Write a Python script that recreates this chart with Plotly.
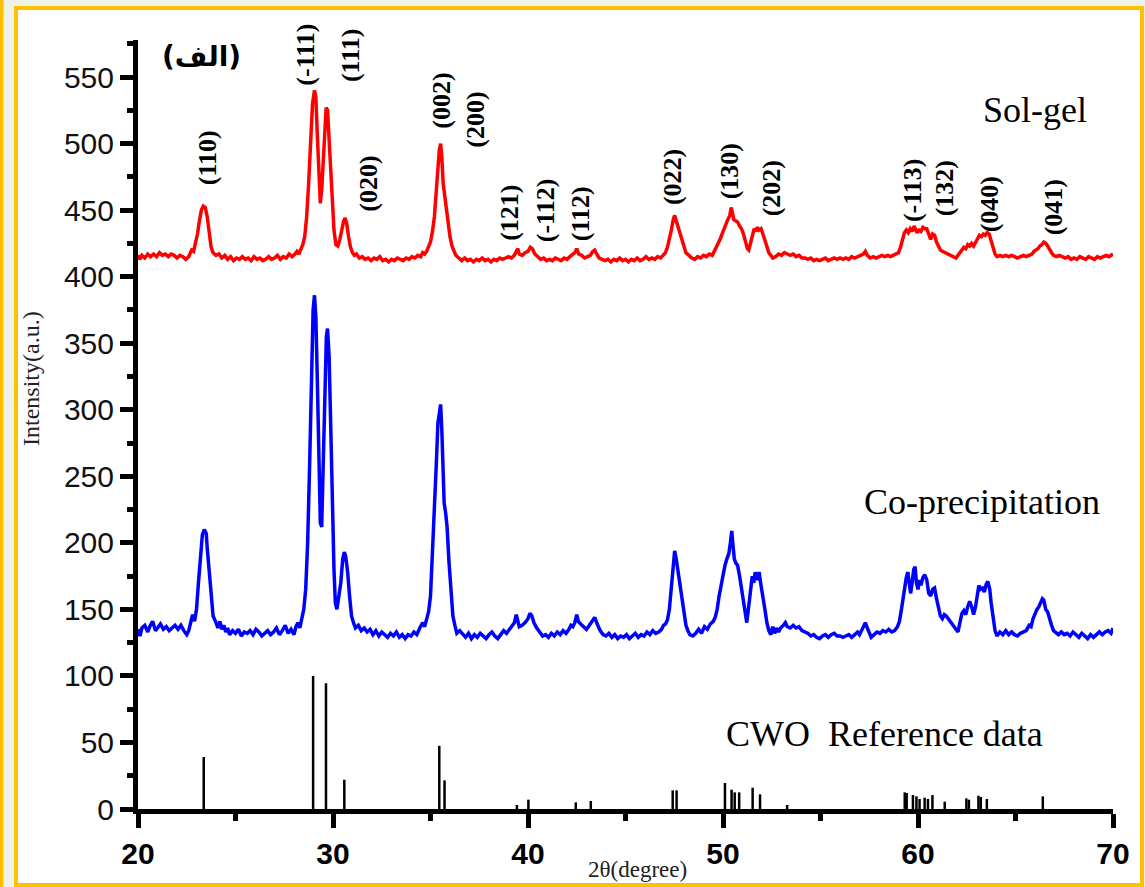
import plotly.graph_objects as go

# --- XRD patterns: (2theta in degrees, intensity in a.u.) ---
sol_gel = [
    (20.0, 416), (20.1, 413), (20.2, 416), (20.35, 414), (20.5, 417), (20.65, 415), (20.8, 417), (20.95, 415),
    (21.1, 418), (21.25, 416), (21.4, 417), (21.55, 415), (21.7, 417), (21.85, 416), (22.0, 414), (22.15, 416),
    (22.3, 415), (22.45, 413), (22.6, 415), (22.75, 420), (22.85, 419), (22.95, 425), (23.05, 432), (23.15, 442),
    (23.25, 450), (23.35, 453), (23.45, 452), (23.55, 445), (23.65, 432), (23.75, 422), (23.85, 418), (24.0, 416),
    (24.15, 417), (24.3, 414), (24.45, 416), (24.6, 413), (24.75, 415), (24.9, 412), (25.05, 414), (25.2, 413),
    (25.35, 415), (25.5, 413), (25.65, 414), (25.8, 412), (25.95, 415), (26.1, 413), (26.25, 414), (26.4, 412),
    (26.55, 413), (26.7, 415), (26.85, 413), (27.0, 414), (27.15, 416), (27.3, 413), (27.45, 415), (27.6, 414),
    (27.75, 417), (27.9, 415), (28.05, 417), (28.15, 419), (28.25, 417), (28.35, 421), (28.45, 424), (28.55, 430),
    (28.65, 445), (28.75, 470), (28.85, 500), (28.95, 530), (29.05, 540), (29.12, 535), (29.2, 505), (29.28, 470),
    (29.35, 455), (29.42, 465), (29.5, 490), (29.58, 515), (29.65, 527), (29.72, 525), (29.8, 505), (29.88, 478),
    (29.95, 460), (30.05, 435), (30.15, 424), (30.25, 423), (30.35, 428), (30.45, 436), (30.55, 442), (30.62, 444),
    (30.7, 440), (30.8, 430), (30.9, 422), (31.0, 418), (31.1, 416), (31.2, 417), (31.35, 414), (31.5, 415),
    (31.65, 413), (31.8, 414), (31.95, 412), (32.1, 414), (32.25, 413), (32.4, 415), (32.55, 412), (32.7, 413),
    (32.85, 411), (33.0, 413), (33.15, 412), (33.3, 414), (33.45, 413), (33.6, 412), (33.75, 414), (33.9, 413),
    (34.05, 415), (34.2, 414), (34.35, 416), (34.5, 415), (34.6, 418), (34.7, 417), (34.8, 419), (34.9, 422),
    (35.0, 426), (35.1, 434), (35.2, 445), (35.3, 465), (35.38, 482), (35.45, 495), (35.52, 500), (35.58, 490),
    (35.65, 470), (35.72, 462), (35.8, 452), (35.9, 440), (36.0, 430), (36.1, 423), (36.2, 419), (36.3, 416),
    (36.45, 414), (36.6, 412), (36.75, 414), (36.9, 412), (37.05, 413), (37.2, 411), (37.35, 413), (37.5, 412),
    (37.65, 414), (37.8, 412), (37.95, 413), (38.1, 411), (38.25, 413), (38.4, 412), (38.55, 414), (38.7, 413),
    (38.85, 414), (39.0, 415), (39.15, 414), (39.3, 416), (39.4, 419), (39.48, 421), (39.55, 417), (39.7, 416),
    (39.85, 418), (40.0, 419), (40.12, 422), (40.22, 421), (40.35, 417), (40.5, 415), (40.65, 413), (40.8, 414),
    (40.95, 412), (41.1, 413), (41.25, 412), (41.4, 414), (41.55, 413), (41.7, 412), (41.85, 414), (42.0, 413),
    (42.15, 415), (42.3, 417), (42.4, 418), (42.5, 421), (42.6, 417), (42.75, 416), (42.9, 414), (43.05, 415),
    (43.2, 416), (43.32, 419), (43.42, 420), (43.52, 417), (43.65, 414), (43.8, 413), (43.95, 412), (44.1, 413),
    (44.25, 411), (44.4, 413), (44.55, 412), (44.7, 414), (44.85, 412), (45.0, 413), (45.15, 411), (45.3, 413),
    (45.45, 412), (45.6, 414), (45.75, 412), (45.9, 413), (46.05, 415), (46.2, 413), (46.35, 414), (46.5, 413),
    (46.65, 415), (46.8, 414), (46.95, 416), (47.05, 418), (47.15, 422), (47.25, 428), (47.35, 435), (47.45, 443),
    (47.52, 446), (47.6, 442), (47.7, 437), (47.8, 432), (47.9, 426), (48.0, 421), (48.1, 418), (48.25, 416),
    (48.4, 414), (48.55, 413), (48.7, 415), (48.85, 414), (49.0, 416), (49.15, 415), (49.3, 417), (49.45, 416),
    (49.55, 419), (49.65, 421), (49.75, 424), (49.85, 428), (49.95, 432), (50.05, 436), (50.15, 440), (50.25, 443),
    (50.35, 446), (50.42, 452), (50.48, 448), (50.55, 443), (50.65, 442), (50.75, 441), (50.85, 438), (50.95, 436),
    (51.05, 432), (51.15, 426), (51.25, 421), (51.32, 420), (51.4, 425), (51.5, 432), (51.6, 436), (51.68, 434),
    (51.75, 437), (51.85, 435), (51.95, 436), (52.05, 432), (52.15, 427), (52.25, 422), (52.35, 418), (52.45, 416),
    (52.55, 414), (52.7, 415), (52.85, 417), (53.0, 416), (53.15, 418), (53.3, 417), (53.45, 416), (53.6, 417),
    (53.75, 415), (53.9, 416), (54.05, 414), (54.2, 414), (54.35, 413), (54.5, 414), (54.65, 412), (54.8, 413),
    (54.95, 412), (55.1, 413), (55.25, 414), (55.4, 412), (55.55, 413), (55.7, 414), (55.85, 413), (56.0, 414),
    (56.15, 413), (56.3, 414), (56.45, 413), (56.6, 415), (56.75, 414), (56.9, 415), (57.05, 416), (57.2, 417),
    (57.3, 419), (57.4, 416), (57.55, 414), (57.7, 415), (57.85, 414), (58.0, 415), (58.15, 416), (58.3, 415),
    (58.45, 416), (58.6, 415), (58.75, 416), (58.9, 417), (59.0, 418), (59.1, 422), (59.2, 428), (59.3, 433),
    (59.4, 435), (59.5, 433), (59.6, 436), (59.7, 434), (59.8, 438), (59.88, 436), (59.95, 433), (60.05, 435),
    (60.15, 434), (60.25, 437), (60.35, 436), (60.45, 436), (60.55, 432), (60.65, 428), (60.75, 432), (60.85, 431),
    (60.95, 426), (61.05, 423), (61.15, 420), (61.25, 419), (61.4, 418), (61.55, 417), (61.7, 416), (61.85, 415),
    (61.95, 414), (62.05, 416), (62.15, 418), (62.25, 420), (62.35, 422), (62.45, 421), (62.55, 424), (62.65, 423),
    (62.75, 425), (62.85, 423), (62.95, 426), (63.05, 428), (63.15, 431), (63.25, 430), (63.35, 432), (63.45, 431),
    (63.55, 433), (63.65, 432), (63.75, 427), (63.85, 421), (63.95, 417), (64.05, 415), (64.2, 416), (64.35, 415),
    (64.5, 416), (64.65, 415), (64.8, 416), (64.95, 415), (65.1, 414), (65.25, 415), (65.4, 416), (65.55, 415),
    (65.7, 416), (65.85, 417), (65.95, 419), (66.05, 420), (66.15, 421), (66.25, 423), (66.35, 424), (66.45, 426),
    (66.55, 425), (66.65, 423), (66.75, 420), (66.85, 418), (66.95, 416), (67.1, 415), (67.25, 416), (67.4, 415),
    (67.55, 414), (67.7, 415), (67.85, 413), (68.0, 414), (68.15, 413), (68.3, 415), (68.45, 414), (68.6, 413),
    (68.75, 415), (68.9, 414), (69.05, 413), (69.2, 415), (69.35, 414), (69.5, 415), (69.65, 416), (69.8, 415),
    (69.95, 417), (70.0, 417),
]

co_precipitation = [
    (20.0, 135), (20.1, 130), (20.2, 136), (20.35, 138), (20.5, 133), (20.6, 137), (20.75, 141), (20.9, 134),
    (21.0, 136), (21.15, 139), (21.3, 135), (21.45, 137), (21.6, 134), (21.75, 136), (21.9, 138), (22.05, 135),
    (22.2, 138), (22.35, 134), (22.5, 131), (22.6, 134), (22.7, 140), (22.8, 146), (22.9, 141), (23.0, 150),
    (23.1, 170), (23.2, 192), (23.3, 206), (23.4, 210), (23.5, 207), (23.55, 196), (23.65, 180), (23.75, 160),
    (23.85, 145), (24.0, 140), (24.1, 136), (24.2, 141), (24.3, 135), (24.4, 138), (24.5, 133), (24.6, 136),
    (24.7, 131), (24.85, 134), (25.0, 132), (25.15, 135), (25.3, 130), (25.45, 133), (25.6, 132), (25.75, 134),
    (25.9, 131), (26.05, 135), (26.2, 133), (26.35, 130), (26.5, 132), (26.65, 134), (26.8, 131), (26.95, 133),
    (27.1, 136), (27.25, 131), (27.4, 134), (27.55, 138), (27.7, 132), (27.85, 135), (28.0, 131), (28.1, 137),
    (28.2, 140), (28.3, 136), (28.4, 143), (28.5, 150), (28.6, 165), (28.7, 200), (28.8, 258), (28.9, 330),
    (28.98, 375), (29.05, 386), (29.12, 370), (29.2, 320), (29.28, 255), (29.35, 215), (29.42, 212), (29.5, 255),
    (29.58, 320), (29.66, 355), (29.72, 361), (29.8, 340), (29.88, 290), (29.95, 240), (30.05, 180), (30.12, 155),
    (30.2, 150), (30.28, 158), (30.4, 170), (30.5, 188), (30.58, 193), (30.65, 190), (30.75, 178), (30.85, 160),
    (30.95, 145), (31.05, 140), (31.15, 136), (31.3, 138), (31.45, 134), (31.6, 136), (31.75, 133), (31.9, 135),
    (32.05, 131), (32.2, 134), (32.35, 130), (32.5, 133), (32.65, 131), (32.8, 129), (32.95, 132), (33.1, 130),
    (33.25, 133), (33.4, 129), (33.55, 131), (33.7, 128), (33.85, 131), (34.0, 130), (34.15, 133), (34.3, 131),
    (34.45, 136), (34.6, 140), (34.7, 137), (34.8, 142), (34.9, 148), (35.0, 160), (35.1, 190), (35.2, 230),
    (35.3, 260), (35.38, 290), (35.45, 300), (35.52, 304), (35.58, 285), (35.63, 250), (35.7, 230), (35.78, 222),
    (35.85, 212), (35.95, 185), (36.05, 160), (36.15, 145), (36.25, 138), (36.35, 132), (36.5, 134), (36.65, 131),
    (36.8, 129), (36.95, 132), (37.1, 128), (37.25, 131), (37.4, 129), (37.55, 132), (37.7, 130), (37.85, 128),
    (38.0, 131), (38.15, 133), (38.3, 130), (38.45, 128), (38.6, 131), (38.75, 134), (38.9, 132), (39.05, 135),
    (39.2, 137), (39.3, 140), (39.4, 146), (39.48, 142), (39.55, 137), (39.7, 138), (39.85, 140), (40.0, 143),
    (40.1, 147), (40.2, 145), (40.3, 140), (40.45, 136), (40.6, 133), (40.75, 130), (40.9, 131), (41.05, 129),
    (41.2, 132), (41.35, 130), (41.5, 133), (41.65, 131), (41.8, 134), (41.95, 132), (42.1, 135), (42.2, 138),
    (42.3, 137), (42.4, 140), (42.5, 146), (42.58, 141), (42.7, 139), (42.85, 137), (43.0, 135), (43.15, 138),
    (43.3, 142), (43.42, 144), (43.55, 139), (43.7, 134), (43.85, 131), (44.0, 130), (44.15, 132), (44.3, 129),
    (44.45, 131), (44.6, 128), (44.75, 130), (44.9, 129), (45.05, 131), (45.2, 128), (45.35, 130), (45.5, 132),
    (45.65, 129), (45.8, 131), (45.95, 130), (46.1, 133), (46.25, 131), (46.4, 134), (46.55, 132), (46.7, 133),
    (46.85, 135), (46.95, 138), (47.05, 139), (47.15, 142), (47.25, 150), (47.35, 168), (47.45, 186), (47.52, 194),
    (47.6, 188), (47.68, 180), (47.78, 170), (47.88, 158), (47.98, 148), (48.1, 138), (48.2, 134), (48.3, 131),
    (48.45, 130), (48.6, 132), (48.75, 135), (48.9, 132), (49.05, 137), (49.2, 135), (49.35, 139), (49.5, 141),
    (49.6, 144), (49.7, 150), (49.8, 160), (49.9, 168), (50.0, 175), (50.1, 183), (50.2, 188), (50.3, 192),
    (50.38, 200), (50.45, 209), (50.5, 200), (50.58, 188), (50.65, 185), (50.75, 183), (50.85, 175), (50.95, 165),
    (51.05, 155), (51.15, 145), (51.22, 140), (51.3, 150), (51.4, 165), (51.5, 175), (51.58, 170), (51.65, 178),
    (51.75, 172), (51.85, 178), (51.95, 168), (52.05, 160), (52.15, 150), (52.25, 140), (52.35, 134), (52.45, 131),
    (52.55, 137), (52.65, 132), (52.75, 136), (52.85, 133), (52.95, 136), (53.1, 138), (53.2, 140), (53.3, 137),
    (53.45, 136), (53.6, 138), (53.75, 136), (53.9, 137), (54.05, 134), (54.2, 133), (54.35, 132), (54.5, 130),
    (54.65, 131), (54.8, 129), (54.95, 128), (55.1, 130), (55.25, 131), (55.4, 129), (55.55, 131), (55.7, 132),
    (55.85, 130), (56.0, 130), (56.15, 129), (56.3, 130), (56.45, 131), (56.6, 129), (56.75, 131), (56.9, 133),
    (57.0, 131), (57.1, 134), (57.2, 137), (57.3, 140), (57.4, 136), (57.5, 132), (57.6, 129), (57.75, 131),
    (57.9, 133), (58.05, 132), (58.2, 134), (58.35, 133), (58.5, 135), (58.65, 133), (58.8, 134), (58.95, 137),
    (59.05, 141), (59.15, 150), (59.25, 160), (59.32, 170), (59.4, 174), (59.48, 178), (59.55, 170), (59.62, 162),
    (59.7, 170), (59.78, 180), (59.85, 182), (59.92, 170), (60.0, 165), (60.08, 172), (60.15, 168), (60.25, 174),
    (60.35, 176), (60.45, 172), (60.55, 162), (60.65, 160), (60.75, 165), (60.85, 166), (60.95, 158), (61.05, 150),
    (61.15, 145), (61.25, 143), (61.35, 146), (61.45, 145), (61.55, 143), (61.7, 140), (61.85, 137), (61.95, 136),
    (62.05, 133), (62.15, 140), (62.25, 147), (62.35, 149), (62.45, 146), (62.55, 152), (62.65, 156), (62.75, 152),
    (62.85, 146), (62.95, 152), (63.05, 160), (63.12, 168), (63.2, 165), (63.3, 166), (63.4, 163), (63.5, 169),
    (63.58, 171), (63.68, 165), (63.75, 155), (63.85, 143), (63.95, 134), (64.05, 130), (64.2, 133), (64.35, 131),
    (64.5, 134), (64.65, 131), (64.8, 133), (64.95, 131), (65.1, 130), (65.25, 132), (65.4, 133), (65.55, 134),
    (65.7, 138), (65.8, 137), (65.9, 143), (66.0, 147), (66.1, 150), (66.2, 152), (66.3, 155), (66.38, 158),
    (66.45, 157), (66.55, 150), (66.65, 148), (66.75, 142), (66.85, 138), (66.95, 134), (67.05, 133), (67.2, 131),
    (67.35, 133), (67.5, 131), (67.65, 132), (67.8, 130), (67.95, 133), (68.1, 131), (68.25, 129), (68.4, 132),
    (68.55, 130), (68.7, 128), (68.85, 131), (69.0, 129), (69.15, 131), (69.3, 133), (69.45, 131), (69.6, 133),
    (69.75, 134), (69.9, 132), (70.0, 136),
]

# CaWO4 reference pattern (stick positions and relative intensities)
ref_2theta = [23.37, 28.98, 29.64, 30.58, 35.45, 35.72, 39.43, 40.02, 42.45, 43.22, 47.42, 47.62,
              50.10, 50.44, 50.60, 50.83, 51.52, 51.90, 53.29, 59.32, 59.42, 59.74, 59.92, 60.08,
              60.34, 60.51, 60.74, 61.37, 62.48, 62.61, 63.10, 63.22, 63.53, 66.40]
ref_intensity = [39, 100, 94.5, 22, 47.5, 21.5, 3, 7, 5, 6, 14, 14,
                 19.5, 14.5, 12.5, 12.5, 16, 11, 3, 12.5, 12, 10.5, 9.5, 7.5,
                 8.5, 7.5, 10.5, 5.5, 8, 7, 10, 9, 7.5, 9.5]

# Miller-index labels (text, 2theta, intensity position)
hkl_text = ["(110)", "(-111)", "(111)", "(020)", "(002)", "(200)", "(121)", "(-112)",
            "(112)", "(022)", "(130)", "(202)", "(-113)", "(132)", "(040)", "(041)"]
hkl_x = [23.54, 28.58, 30.89, 31.81, 35.58, 37.29, 39.08, 40.88,
         42.67, 47.45, 50.35, 52.49, 59.69, 61.36, 63.67, 66.92]
hkl_y = [489, 567, 566, 470, 532, 518, 448, 450,
         447, 475, 479, 466, 465, 466, 454, 452]

x_ticks = [20, 30, 40, 50, 60, 70]
y_ticks = [0, 50, 100, 150, 200, 250, 300, 350, 400, 450, 500, 550]

SERIF = "Liberation Serif, Times New Roman, serif"
SANS = "Liberation Sans, Arial, sans-serif"

fig = go.Figure()

# reference sticks as vertical segments from the baseline
stick_x, stick_y = [], []
for tx, ty in zip(ref_2theta, ref_intensity):
    stick_x += [tx, tx, None]
    stick_y += [0, ty, None]
fig.add_trace(go.Scatter(x=stick_x, y=stick_y, mode="lines",
                         line=dict(color="black", width=2.5), hoverinfo="skip"))

fig.add_trace(go.Scatter(x=[p[0] for p in co_precipitation], y=[p[1] for p in co_precipitation],
                         mode="lines", line=dict(color="#0000FF", width=3.5), name="Co-precipitation"))
fig.add_trace(go.Scatter(x=[p[0] for p in sol_gel], y=[p[1] for p in sol_gel],
                         mode="lines", line=dict(color="#FF0000", width=3.5), name="Sol-gel"))

L, R, T, B = 138, 32, 40, 78
W, H = 1145, 887
pw, ph = W - L - R, H - T - B


def px(xpix):
    return (xpix - L) / pw


def py(ypix):
    return (H - B - ypix) / ph


annotations = []
for t, x, y in zip(hkl_text, hkl_x, hkl_y):
    annotations.append(dict(x=x, y=y, text=t, showarrow=False, textangle=-90,
                            xanchor="center", yanchor="middle",
                            font=dict(family=SERIF, size=26, color="black", weight="bold")))

annotations += [
    dict(x=65.98, y=525, text="Sol-gel", showarrow=False, xanchor="center", yanchor="middle",
         font=dict(family=SERIF, size=36, color="black")),
    dict(x=63.29, y=231, text="Co-precipitation", showarrow=False, xanchor="center", yanchor="middle",
         font=dict(family=SERIF, size=36, color="black")),
    dict(x=58.3, y=56, text="CWO\u00a0 Reference data", showarrow=False, xanchor="center", yanchor="middle",
         font=dict(family=SERIF, size=36, color="black")),
    dict(x=px(201), y=py(57), xref="paper", yref="paper", text="(الف)", showarrow=False,
         xanchor="center", yanchor="middle",
         font=dict(family="DejaVu Sans, sans-serif", size=28, color="black", weight="bold")),
    dict(x=px(637), y=py(869), xref="paper", yref="paper", text="2θ(degree)", showarrow=False,
         xanchor="center", yanchor="middle", font=dict(family=SERIF, size=23, color="#222222")),
    dict(x=px(31), y=py(379), xref="paper", yref="paper", text="Intensity(a.u.)", showarrow=False,
         textangle=-90, xanchor="center", yanchor="middle",
         font=dict(family=SERIF, size=24, color="#222222")),
]

shapes = [
    # page frame
    dict(type="rect", xref="paper", yref="paper", x0=px(16), x1=px(1142), y0=py(885), y1=py(8),
         line=dict(color="#FFC000", width=4), fillcolor="white", layer="below"),
    dict(type="line", xref="paper", yref="paper", x0=px(1.5), x1=px(1.5), y0=py(887), y1=py(0),
         line=dict(color="#FFC000", width=4), layer="below"),
]

fig.update_layout(
    width=W, height=H,
    margin=dict(l=L, r=R, t=T, b=B, pad=0),
    paper_bgcolor="#EEF3EA",
    plot_bgcolor="rgba(0,0,0,0)",
    showlegend=False,
    annotations=annotations,
    shapes=shapes,
    xaxis=dict(range=[20, 70], tickvals=x_ticks, ticks="outside", ticklen=14, tickwidth=5,
               tickcolor="black", showline=True, linecolor="black", linewidth=5,
               showgrid=False, zeroline=False,
               minor=dict(dtick=5, tick0=20, ticks="outside", ticklen=7, tickwidth=5, tickcolor="black"),
               tickfont=dict(family=SANS, size=30, color="black", weight="bold")),
    yaxis=dict(range=[0, 577.8], tickvals=y_ticks, ticks="outside", ticklen=13, tickwidth=5,
               tickcolor="black", showline=True, linecolor="black", linewidth=5,
               showgrid=False, zeroline=False,
               minor=dict(dtick=25, tick0=0, ticks="outside", ticklen=6, tickwidth=5, tickcolor="black"),
               tickfont=dict(family=SANS, size=30, color="#111111")),
)

fig.write_html("out.html")
